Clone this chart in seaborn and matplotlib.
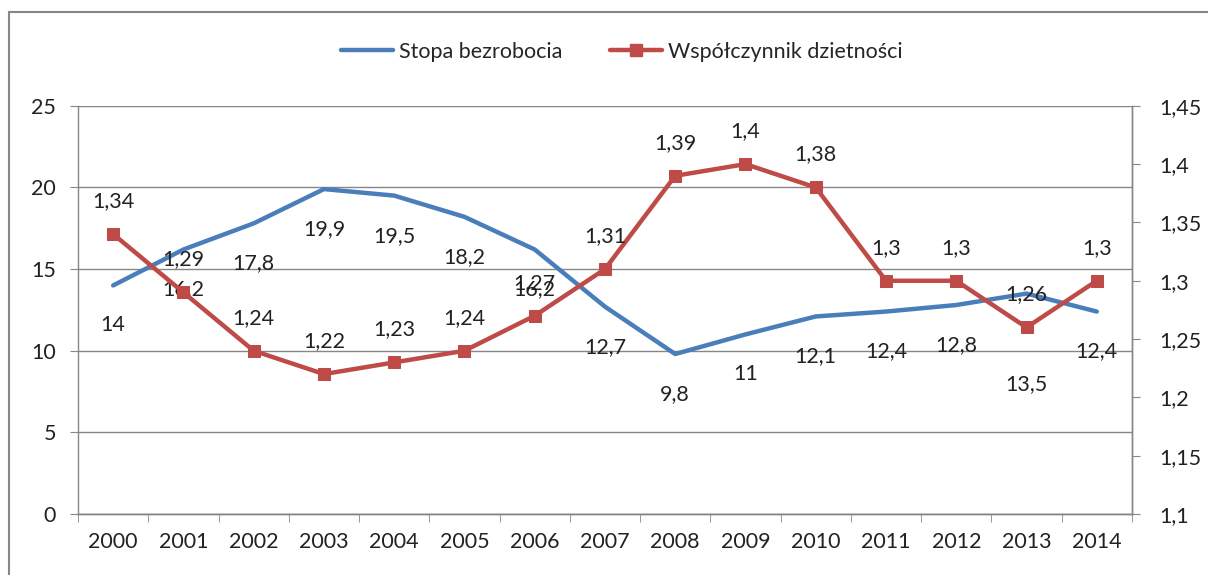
import numpy as np
import pandas as pd
import matplotlib
matplotlib.use('Agg')
import matplotlib.pyplot as plt
from matplotlib.lines import Line2D
import seaborn as sns

years = [str(y) for y in range(2000, 2015)]
unemployment = [14, 16.2, 17.8, 19.9, 19.5, 18.2, 16.2, 12.7, 9.8, 11, 12.1, 12.4, 12.8, 13.5, 12.4]
fertility = [1.34, 1.29, 1.24, 1.22, 1.23, 1.24, 1.27, 1.31, 1.39, 1.4, 1.38, 1.3, 1.3, 1.26, 1.3]

blue = '#4a7ebb'
red = '#be4b48'
grey = '#868686'
fs = 15.5

sns.set_style('white')
plt.rcParams['font.family'] = ['Lato', 'DejaVu Sans']

df = pd.DataFrame({'pos': np.arange(len(years)), 'year': years,
                   'unemp': unemployment, 'fert': fertility})

def pl(v):
    return ('%g' % v).replace('.', ',')

fig = plt.figure(figsize=(12.08, 5.75), dpi=100)
ax = fig.add_axes([0.0646, 0.106, 0.8724, 0.71])
ax2 = ax.twinx()

sns.lineplot(data=df, x='pos', y='unemp', ax=ax, color=blue, lw=3.2, label='Stopa bezrobocia', legend=False)
sns.lineplot(data=df, x='pos', y='fert', ax=ax2, color=red, lw=3.2, marker='s', markersize=9,
             markeredgecolor=red, label='Współczynnik dzietności', legend=False)

ax.set_xlim(-0.5, len(years) - 0.5)
ax.set_ylim(0, 25)
ax.set_yticks(range(0, 26, 5))
ax2.set_ylim(1.1, 1.45)
ax2.set_yticks(np.arange(1.1, 1.451, 0.05))
ax2.set_yticklabels([pl(round(t, 2)) for t in np.arange(1.1, 1.451, 0.05)])

ax.set_xticks(df['pos'])
ax.set_xticklabels(years)
ax.set_xticks(np.arange(-0.5, len(years)), minor=True)
ax.tick_params(axis='x', which='major', length=0, pad=13, labelsize=fs, colors='#222222')
ax.tick_params(axis='x', which='minor', length=6, color=grey, direction='out', bottom=True)
ax.tick_params(axis='y', length=6, color=grey, direction='out', left=True, pad=10, labelsize=fs, colors='#222222')
ax2.tick_params(axis='y', length=6, color=grey, direction='out', right=True, pad=14, labelsize=fs, colors='#222222')
ax.set_xlabel('')
ax.set_ylabel('')
ax2.set_ylabel('')

ax.yaxis.grid(True, color=grey, lw=1)
ax.set_axisbelow(True)
for a in (ax, ax2):
    a.spines['top'].set_visible(False)
    for s in ('left', 'bottom', 'right'):
        a.spines[s].set_color(grey)
        a.spines[s].set_linewidth(1)
ax2.spines['left'].set_visible(False)

# data labels
for i, (u, f) in enumerate(zip(unemployment, fertility)):
    off = -40 if years[i] != '2013' else -90
    ax.annotate(pl(u), (i, u), xytext=(0, off), textcoords='offset pixels',
                ha='center', va='center', fontsize=fs, color='#222222')
    ax2.annotate(pl(f), (i, f), xytext=(0, 33), textcoords='offset pixels',
                 ha='center', va='center', fontsize=fs, color='#222222')

handles = [Line2D([], [], color=blue, lw=3.2),
           Line2D([], [], color=red, lw=3.2, marker='s', markersize=9)]
fig.legend(handles, ['Stopa bezrobocia', 'Współczynnik dzietności'], loc='center',
           bbox_to_anchor=(0.515, 0.91), ncol=2, frameon=False, fontsize=fs,
           handlelength=2.4, handletextpad=0.3, columnspacing=2.2)

fig.add_artist(Line2D([0.0075, 0.0075], [0, 0.979], color=grey, lw=1.5, transform=fig.transFigure))
fig.add_artist(Line2D([0.0075, 1], [0.979, 0.979], color=grey, lw=1.5, transform=fig.transFigure))

fig.savefig('out.png', dpi=100, facecolor='white')
